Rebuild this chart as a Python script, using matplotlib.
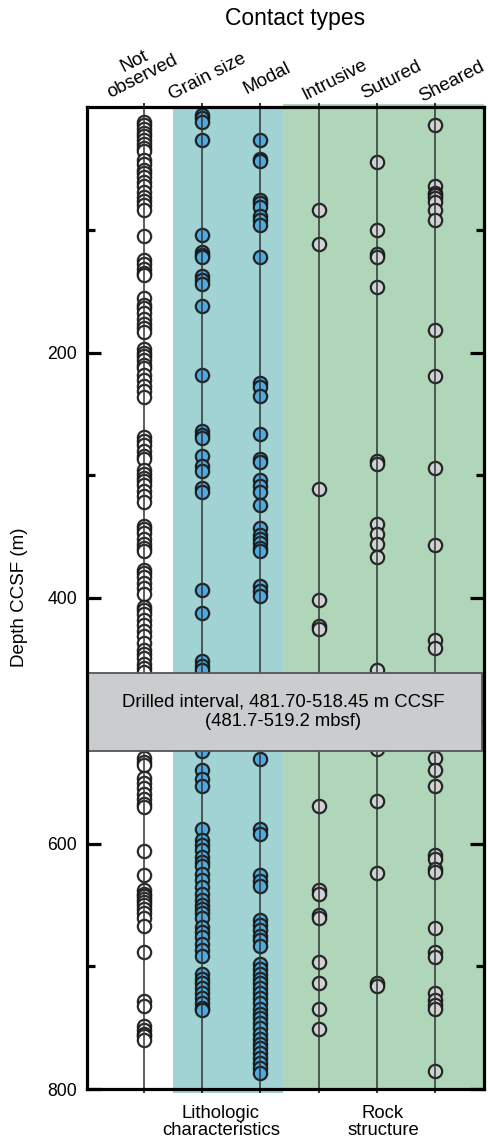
import matplotlib
matplotlib.use("Agg")
import matplotlib.pyplot as plt
from matplotlib.patches import Rectangle

plt.rcParams['font.family'] = ['Liberation Sans', 'DejaVu Sans']

# ---- data: depths (m CCSF) of each contact type ----
columns = ["Not\nobserved", "Grain size", "Modal", "Intrusive", "Sutured", "Sheared"]

not_observed = [12, 15, 18, 21, 24, 27, 30, 33, 36, 43.5, 46.5, 51, 54, 57, 61.5, 64.5,
                69, 73.5, 76.5, 79.5, 84, 105, 125, 128, 132, 135, 137, 156, 161, 164,
                168, 173, 177, 180, 183, 197, 200, 203, 206, 210, 213, 218, 222, 227,
                231, 236, 269, 272, 275, 280, 284, 287, 296, 299, 302, 305, 308, 313,
                317, 322, 341, 344, 347, 352, 356, 359, 362, 377, 380, 383, 388, 392,
                397, 407, 410, 413, 418, 422, 427, 431, 437, 442, 446, 449, 454, 457,
                460, 530, 534, 536, 547, 551, 555, 560, 564, 568, 570, 606, 626, 638,
                641, 643, 645, 648, 650, 653, 657, 661, 667, 688, 728, 732, 749, 752,
                755, 757, 760]

grain_size = [6.5, 9, 12.5, 27, 104, 118.5, 120.5, 122, 138, 141, 144, 162.5, 218, 264,
              267, 270, 284, 292.5, 296.5, 310, 313.5, 393.5, 412, 451, 455, 458.5, 525,
              540.5, 547.5, 553, 588, 597.5, 601.5, 605, 611, 615, 618, 624.5, 630,
              635.5, 641, 646, 650.5, 653, 657, 661, 668, 672, 676, 681.5, 687, 692,
              706, 710, 714, 718, 722, 726, 730, 734, 736]

modal = [27, 42, 44, 75.5, 78.5, 81.5, 89, 92, 96, 122, 225, 228, 235.5, 266, 287,
         289.5, 304, 308.5, 314, 324, 343, 349, 352, 355, 359, 362, 390, 394, 398,
         531.5, 588, 592, 626, 630.5, 635, 662.5, 666.5, 670.5, 675, 679, 683.5, 698,
         702, 706, 710, 714, 718, 722, 726, 730, 734.5, 738.5, 742.5, 746.5, 750.5,
         755, 759, 763, 767, 771, 775, 779, 783, 787]

intrusive = [84, 112, 311, 401.5, 422.5, 425, 569.5, 638, 641, 658.5, 661, 696.5, 714,
             735, 751]

sutured = [45, 100, 120, 122.5, 147, 288.5, 291, 340, 347.5, 356, 367, 459, 523, 565,
           624, 714, 716]

sheared = [15, 64, 70, 72, 74, 77, 84, 92, 181.5, 219, 294, 357, 434, 441, 530, 540.5,
           553, 609.5, 612.5, 621, 623.5, 669, 688, 692.5, 722, 727.5, 731.5, 735, 785]

series = [not_observed, grain_size, modal, intrusive, sutured, sheared]

depth_ticks = [200, 400, 600, 800]
depth_minor = [100, 300, 500, 700]
box_top, box_bottom = 461.2, 524.6
box_text = "Drilled interval, 481.70-518.45 m CCSF\n(481.7-519.2 mbsf)"
groups = ["Lithologic\ncharacteristics", "Rock\nstructure"]

# ---- styling ----
W, H = 489, 1143
BLUE = '#52aadc'
GRAY = '#d0d3d4'
BAND_BLUE = '#a2d3d4'
BAND_GREEN = '#afd6b8'
faces = ['white', BLUE, BLUE, GRAY, GRAY, GRAY]


def fpos(x, y):
    return x / W, 1 - y / H


fig = plt.figure(figsize=(W / 100, H / 100), dpi=100)
ax = fig.add_axes([87 / W, 1 - 1089 / H, 397 / W, 982 / H])

ax.set_ylim(800, 0)
ax.set_xlim(-0.98, 5.84)

# background bands
ax.add_patch(Rectangle((0.5, 0), 2.388 - 0.5, 803, facecolor=BAND_BLUE,
                       edgecolor='none', zorder=0, clip_on=False))
ax.add_patch(Rectangle((2.388, -2.5), 5.84 - 2.388, 802.5, facecolor=BAND_GREEN,
                       edgecolor='none', zorder=0, clip_on=False))

for i, (vals, fc) in enumerate(zip(series, faces)):
    ax.scatter([i] * len(vals), vals, s=92, facecolors=fc,
               edgecolors=(0.08, 0.08, 0.08, 0.9), linewidths=1.6, zorder=2)
    ax.axvline(i, color='#333333', lw=1.1, zorder=3)

# drilled interval box
ax.add_patch(Rectangle((0.003, box_top), 0.992, box_bottom - box_top,
                       transform=ax.get_yaxis_transform(), facecolor='#c9cdcd',
                       edgecolor='#555555', lw=1.3, zorder=5))
ax.text(0.495, (box_top + box_bottom) / 2, box_text, transform=ax.get_yaxis_transform(),
        ha='center', va='center', fontsize=13.3, linespacing=1.2, zorder=6)

# axes frame and ticks
for sp in ax.spines.values():
    sp.set_linewidth(2.3)
    sp.set_zorder(7)
ax.set_yticks(depth_ticks)
ax.set_yticks(depth_minor, minor=True)
ax.tick_params(axis='y', which='major', direction='in', length=10, width=2.3,
               left=True, right=True, labelsize=12.7, pad=7)
ax.tick_params(axis='y', which='minor', direction='in', length=5.8, width=2.3,
               left=True, right=True)
ax.set_xticks(range(len(columns)))
ax.tick_params(axis='x', direction='out', length=3, width=1.1, top=True, bottom=True,
               labelbottom=False, labeltop=False)

# column labels
label_pos = [(138, 69), (207, 77), (267, 78), (335, 80), (391, 80), (452, 82)]
for name, (x, y) in zip(columns, label_pos):
    fig.text(*fpos(x, y), name, rotation=27, rotation_mode='anchor', ha='center',
             va='center', fontsize=13.5, linespacing=1.05, multialignment='center')

fig.text(*fpos(295, 19), "Contact types", ha='center', va='center', fontsize=16.5)
fig.text(*fpos(20, 597), "Depth CCSF (m)", rotation=90, ha='center', va='center',
         fontsize=13.5)
fig.text(*fpos(221, 1122), groups[0], ha='center', va='center', fontsize=13.3,
         linespacing=1.05)
fig.text(*fpos(383, 1122), groups[1], ha='center', va='center', fontsize=13.3,
         linespacing=1.05)

fig.savefig("out.png", dpi=100)
